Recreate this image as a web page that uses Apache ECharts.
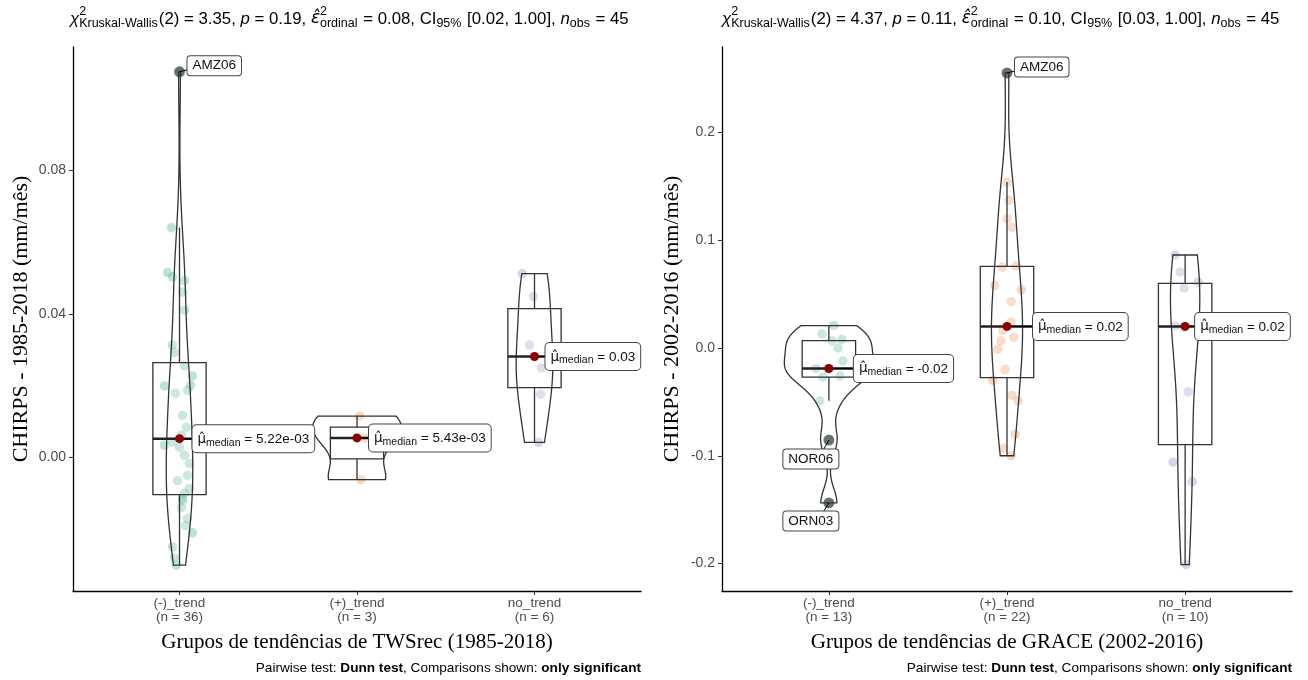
<!DOCTYPE html>
<html><head><meta charset="utf-8">
<script src="https://cdn.jsdelivr.net/npm/echarts@6/dist/echarts.min.js"></script>
<style>html,body{margin:0;padding:0;background:#fff}#c{width:1308px;height:680px}</style>
</head><body><div id="c"></div>
<script>
// ================= DATA =================
const categories = ['(-)_trend', '(+)_trend', 'no_trend'];
const leftYTicks = [0, 0.04, 0.08];
const rightYTicks = [-0.2, -0.1, 0, 0.1, 0.2];

// Left panel: CHIRPS 1985-2018, groups of TWSrec trends
const leftNegValues = [0.1074, 0.064, 0.0515, 0.0503, 0.0492, 0.046, 0.041, 0.0313, 0.0292, 0.0255, 0.0227, 0.0201, 0.0199, 0.0187, 0.0179, 0.0117, 0.0084, 0.0062, 0.00424, 0.0034, 0.0028, 0.0006, -0.0017, -0.005, -0.0065, -0.0087, -0.010, -0.0115, -0.012, -0.014, -0.017, -0.019, -0.021, -0.0249, -0.028, -0.030];
const leftNegJitter = [0, -0.045, -0.068, -0.039, 0.028, 0.017, 0.028, -0.039, -0.028, 0.028, 0.073, 0.062, -0.085, 0.045, -0.023, 0.017, 0.039, 0.011, -0.039, -0.085, 0, 0.028, 0.056, 0.045, -0.011, 0.056, 0.028, 0.017, 0.017, 0.011, 0.045, 0.034, 0.073, -0.039, -0.028, -0.017];
const leftPosValues = [0.0115, 0.00543, -0.0062];
const leftPosJitter = [0.014, 0.042, 0.023];
const leftNoValues = [0.0512, 0.0448, 0.0313, 0.0249, 0.0176, 0.0042];
const leftNoJitter = [-0.068, -0.006, -0.028, 0.039, 0.034, 0.023];
const leftOutlierNames = ['AMZ06'];

// Right panel: CHIRPS 2002-2016, groups of GRACE trends
const rightNegValues = [0.0207, 0.013, 0.0078, 0.0068, 0.0, -0.012, -0.019, -0.0195, -0.026, -0.027, -0.049, -0.0854, -0.1438];
const rightNegJitter = [0.028, -0.039, 0.073, 0.017, 0.051, 0.079, -0.073, -0.006, 0.062, -0.034, -0.051, 0, 0];
const rightPosValues = [0.2552, 0.154, 0.137, 0.120, 0.112, 0.076, 0.075, 0.058, 0.054, 0.043, 0.024, 0.016, 0.010, 0.0065, -0.001, -0.020, -0.030, -0.044, -0.049, -0.080, -0.093, -0.100];
const rightPosJitter = [0, 0, 0.011, 0, 0.028, 0.051, -0.028, -0.068, 0.079, 0.023, 0.023, -0.023, 0.039, -0.034, -0.051, -0.011, -0.079, 0.028, 0.062, 0.045, -0.023, 0.023];
const rightNoValues = [0.0863, 0.0705, 0.0613, 0.0557, 0.0205, 0.0195, -0.0408, -0.106, -0.124, -0.201];
const rightNoJitter = [-0.056, -0.028, 0.073, -0.006, -0.056, -0.011, 0.017, -0.068, 0.039, 0.006];
const rightOutlierNames = ['NOR06', 'ORN03', 'AMZ06'];

// Kruskal-Wallis subtitle statistics
const leftStats = ['3.35', '0.19', '0.08', '0.02', '1.00', '45'];
const rightStats = ['4.37', '0.11', '0.10', '0.03', '1.00', '45'];

// ================= LAYOUT / STYLE =================
const GRIDS = [{left: 73, top: 47, width: 568, height: 544}, {left: 722, top: 47, width: 570, height: 544}];
const Y_RANGES = [[-0.0372, 0.1143], [-0.2255, 0.2793]];
const POINT_COLORS = ['rgba(27,158,119,0.36)', 'rgba(217,95,2,0.33)', 'rgba(117,112,179,0.36)'];
const MEDIAN_LABEL_DX = [[13, 12, 11], [25, 26, 10]];
const OUTLIER_LABEL = { // [dx, dy, align] relative to point
  AMZ06: [8, -6, 'left'], NOR06: [-18, 19, 'center'], ORN03: [-18, 18, 'center']
};
const SANS = 'Liberation Sans', SERIF = 'Liberation Serif', MATH = 'DejaVu Sans';

// ================= STATS =================
function quant(s, p) { const h = (s.length - 1) * p, lo = Math.floor(h); return lo + 1 < s.length ? s[lo] + (h - lo) * (s[lo + 1] - s[lo]) : s[lo]; }
function boxStats(v) {
  const s = v.slice().sort((a, b) => a - b);
  const q1 = quant(s, 0.25), med = quant(s, 0.5), q3 = quant(s, 0.75), iqr = q3 - q1;
  const lf = q1 - 1.5 * iqr, hf = q3 + 1.5 * iqr;
  const inl = s.filter(x => x >= lf && x <= hf);
  return {q1, med, q3, wlo: inl[0], whi: inl[inl.length - 1], isOut: x => x < lf || x > hf};
}
function kde(v) {
  const n = v.length, s = v.slice().sort((a, b) => a - b);
  const mean = v.reduce((a, b) => a + b, 0) / n;
  const sd = Math.sqrt(v.reduce((a, b) => a + (b - mean) ** 2, 0) / (n - 1));
  const iqr = quant(s, 0.75) - quant(s, 0.25);
  const lo = Math.min(sd, iqr / 1.34) || sd;
  const bw = 0.9 * lo * Math.pow(n, -0.2);
  const out = [], a = s[0], b = s[n - 1];
  for (let k = 0; k < 512; k++) {
    const y = a + (b - a) * k / 511;
    let d = 0;
    for (const x of v) d += Math.exp(-0.5 * ((y - x) / bw) ** 2);
    out.push([y, d / (n * bw * Math.sqrt(2 * Math.PI))]);
  }
  return out;
}
function fmtMed(m) {
  if (Math.abs(m) < 0.01) return m.toExponential(2).replace(/e([+-])(\d)$/, 'e$10$2');
  return m.toFixed(2);
}

// ================= SERIES BUILDERS =================
function panelSeries(pi, groups, jitters, outNames) {
  const series = [];
  const stats = groups.map(boxStats);
  const dens = groups.map(kde);
  const maxD = Math.max(...dens.map(d => Math.max(...d.map(p => p[1]))));
  const ax = {xAxisIndex: pi, yAxisIndex: pi};

  groups.forEach((g, i) => {
    series.push(Object.assign({
      type: 'scatter', silent: true, symbolSize: 9.5, z: 2,
      itemStyle: {color: POINT_COLORS[i], borderWidth: 0},
      data: g.map((v, k) => [i + 1 + jitters[i][k], v])
    }, ax));
  });
  series.push(Object.assign({
    type: 'custom', silent: true, z: 3, clip: false,
    data: groups.map((g, i) => [i + 1, stats[i].med]),
    renderItem: (params, api) => {
      const i = params.dataIndex, d = dens[i], x = i + 1, pts = [];
      d.forEach(([y, v]) => pts.push(api.coord([x - v / maxD * 0.25, y])));
      for (let k = d.length - 1; k >= 0; k--) pts.push(api.coord([x + d[k][1] / maxD * 0.25, d[k][0]]));
      return {type: 'polygon', shape: {points: pts}, style: {fill: 'rgba(255,255,255,0.2)', stroke: '#333', lineWidth: 1.3}};
    }
  }, ax));
  series.push(Object.assign({
    type: 'custom', silent: true, z: 4, clip: false,
    data: groups.map((g, i) => [i + 1, stats[i].med]),
    renderItem: (params, api) => {
      const i = params.dataIndex, b = stats[i], x = i + 1, hw = 0.15;
      const c = (xx, yy) => api.coord([xx, yy]);
      const st = {stroke: '#333', lineWidth: 1.3, fill: 'none'};
      const ln = (p1, p2, s) => ({type: 'line', shape: {x1: p1[0], y1: p1[1], x2: p2[0], y2: p2[1]}, style: s});
      const tl = c(x - hw, b.q3), br = c(x + hw, b.q1);
      return {type: 'group', children: [
        ln(c(x, b.q3), c(x, b.whi), st),
        ln(c(x, b.q1), c(x, b.wlo), st),
        {type: 'rect', shape: {x: tl[0], y: tl[1], width: br[0] - tl[0], height: br[1] - tl[1]}, style: st},
        ln(c(x - hw, b.med), c(x + hw, b.med), {stroke: '#222', lineWidth: 2.6})
      ]};
    }
  }, ax));
  const outs = [];
  groups.forEach((g, i) => g.forEach(v => { if (stats[i].isOut(v)) outs.push([i + 1, v]); }));
  series.push(Object.assign({
    type: 'scatter', silent: true, symbolSize: 11, z: 5,
    itemStyle: {color: 'rgba(45,45,45,0.8)'}, data: outs
  }, ax));
  series.push(Object.assign({
    type: 'custom', silent: true, z: 6, clip: false, data: outs,
    renderItem: (params, api) => {
      const name = outNames[params.dataIndex];
      const p = api.coord([api.value(0), api.value(1)]);
      const L = OUTLIER_LABEL[name];
      const lx = p[0] + L[0], ly = p[1] + L[1];
      const ex = L[2] === 'left' ? lx : lx + 13, ey = L[2] === 'left' ? ly + 4 : ly - 10;
      return {type: 'group', children: [
        {type: 'line', shape: {x1: p[0], y1: p[1], x2: ex, y2: ey}, style: {stroke: '#000', lineWidth: 1}},
        {type: 'text', x: lx, y: ly, style: {text: name, fontSize: 13.5, fontFamily: SANS, fill: '#111',
          backgroundColor: '#fff', borderColor: '#444', borderWidth: 1, borderRadius: 3, padding: [3, 5, 2, 5],
          align: L[2], verticalAlign: 'middle'}}
      ]};
    }
  }, ax));
  series.push(Object.assign({
    type: 'custom', silent: true, z: 7, clip: false,
    data: groups.map((g, i) => [i + 1, stats[i].med]),
    renderItem: (params, api) => {
      const i = params.dataIndex;
      const p = api.coord([api.value(0), api.value(1)]);
      const dx = MEDIAN_LABEL_DX[pi][i];
      return {type: 'group', children: [
        {type: 'line', shape: {x1: p[0], y1: p[1], x2: p[0] + dx, y2: p[1]}, style: {stroke: '#000', lineWidth: 1.3}},
        {type: 'circle', shape: {cx: p[0], cy: p[1], r: 4.5}, style: {fill: '#8B0000'}},
        {type: 'text', x: p[0] + dx, y: p[1], style: {
          text: '{m|μ̂}{s|median}{t| = ' + fmtMed(stats[i].med) + '}',
          rich: {m: {fontSize: 13.5, fontFamily: MATH, fill: '#111'},
                 s: {fontSize: 10.5, fontFamily: SANS, fill: '#111', padding: [7, 0, 0, 0]},
                 t: {fontSize: 13.5, fontFamily: SANS, fill: '#111'}},
          backgroundColor: '#fff', borderColor: '#444', borderWidth: 1, borderRadius: 4, padding: [5, 5, 4, 5],
          align: 'left', verticalAlign: 'middle'}}
      ]};
    }
  }, ax));
  return series;
}

// ================= AXES =================
function xAxis(pi, counts) {
  return {
    type: 'value', gridIndex: pi, min: 0.4, max: 3.6,
    axisLine: {show: true, onZero: false, lineStyle: {color: '#000', width: 1.3}},
    axisTick: {show: true, length: 4, customValues: [1, 2, 3], lineStyle: {color: '#333', width: 1}},
    axisLabel: {customValues: [1, 2, 3], color: '#4D4D4D', fontSize: 13.5, fontFamily: SANS, lineHeight: 14, margin: 5,
      formatter: v => { const i = Math.round(v) - 1; return categories[i] + '\n(n = ' + counts[i] + ')'; }},
    splitLine: {show: false}
  };
}
function yAxis(pi, ticks, dec) {
  return {
    type: 'value', gridIndex: pi, min: Y_RANGES[pi][0], max: Y_RANGES[pi][1],
    axisLine: {show: true, onZero: false, lineStyle: {color: '#000', width: 1.3}},
    axisTick: {show: true, length: 4, customValues: ticks, lineStyle: {color: '#333', width: 1}},
    axisLabel: {customValues: ticks, color: '#4D4D4D', fontSize: 14, fontFamily: SANS, margin: 7,
      formatter: v => Number(v).toFixed(dec)},
    splitLine: {show: false}
  };
}

// ================= TEXT HELPERS =================
const MEAS = document.createElement('canvas').getContext('2d');
function tw(t, size, italic, fam) { MEAS.font = (italic ? 'italic ' : '') + size + 'px "' + (fam || SANS) + '"'; return MEAS.measureText(t).width; }
function mathLine(segs, x0, yMid, S, s) {
  const out = []; let x = x0;
  const mk = (t, xx, yy, size, it, fam) => ({type: 'text', x: xx, y: yy, silent: true,
    style: {text: t, fontSize: size, fontFamily: fam || SANS, fontStyle: it ? 'italic' : 'normal', fill: '#000', align: 'left', verticalAlign: 'middle'}});
  for (const g of segs) {
    if (g.t !== undefined) { out.push(mk(g.t, x, yMid, S, g.it, g.fam)); x += tw(g.t, S, g.it, g.fam); }
    else {
      let w = 0;
      if (g.sup) { out.push(mk(g.sup, x, yMid - 7, s)); w = Math.max(w, tw(g.sup, s)); }
      if (g.sub) { out.push(mk(g.sub, x, yMid + 5, s)); w = Math.max(w, tw(g.sub, s)); }
      x += w + 1;
    }
  }
  return out;
}
function subtitle(st, x0) {
  return mathLine([
    {t: 'χ', it: true}, {sup: '2', sub: 'Kruskal-Wallis'}, {t: '(2) = ' + st[0] + ', '},
    {t: 'p', it: true}, {t: ' = ' + st[1] + ', '},
    {t: 'ε̂', it: true, fam: MATH}, {sup: '2', sub: 'ordinal'}, {t: ' = ' + st[2] + ', CI'}, {sub: '95%'},
    {t: ' [' + st[3] + ', ' + st[4] + '], '}, {t: 'n', it: true}, {sub: 'obs'}, {t: ' = ' + st[5]}
  ], x0, 19, 16.8, 12.5);
}
function plainText(t, x, y, font, size, rot, align) {
  return {type: 'text', x, y, rotation: rot || 0, silent: true,
    style: {text: t, fontFamily: font, fontSize: size, fill: '#000', align: align || 'center', verticalAlign: 'middle'}};
}
function caption(x, y) {
  return {type: 'text', x, y, silent: true, style: {
    text: '{n|Pairwise test: }{b|Dunn test}{n|, Comparisons shown: }{b|only significant}',
    rich: {n: {fontSize: 13.6, fontFamily: SANS, fill: '#000'}, b: {fontSize: 13.6, fontFamily: SANS, fontWeight: 'bold', fill: '#000'}},
    align: 'right', verticalAlign: 'middle'}};
}

// ================= OPTION =================
const leftGroups = [leftNegValues, leftPosValues, leftNoValues];
const rightGroups = [rightNegValues, rightPosValues, rightNoValues];
const option = {
  backgroundColor: '#fff',
  animation: false,
  grid: GRIDS.map(g => Object.assign({containLabel: false}, g)),
  xAxis: [xAxis(0, leftGroups.map(g => g.length)), xAxis(1, rightGroups.map(g => g.length))],
  yAxis: [yAxis(0, leftYTicks, 2), yAxis(1, rightYTicks, 1)],
  series: [].concat(
    panelSeries(0, leftGroups, [leftNegJitter, leftPosJitter, leftNoJitter], leftOutlierNames),
    panelSeries(1, rightGroups, [rightNegJitter, rightPosJitter, rightNoJitter], rightOutlierNames)
  ),
  graphic: [].concat(
    subtitle(leftStats, 70),
    subtitle(rightStats, 722),
    [
      plainText('CHIRPS - 1985-2018 (mm/mês)', 21, 319, SERIF, 22, Math.PI / 2),
      plainText('CHIRPS - 2002-2016 (mm/mês)', 672, 319, SERIF, 22, Math.PI / 2),
      plainText('Grupos de tendências de TWSrec (1985-2018)', 357, 642, SERIF, 21, 0),
      plainText('Grupos de tendências de GRACE (2002-2016)', 1007, 642, SERIF, 21, 0),
      caption(641, 668),
      caption(1292, 668)
    ]
  )
};
const chart = echarts.init(document.getElementById('c'));
chart.setOption(option);
</script>
</body></html>
